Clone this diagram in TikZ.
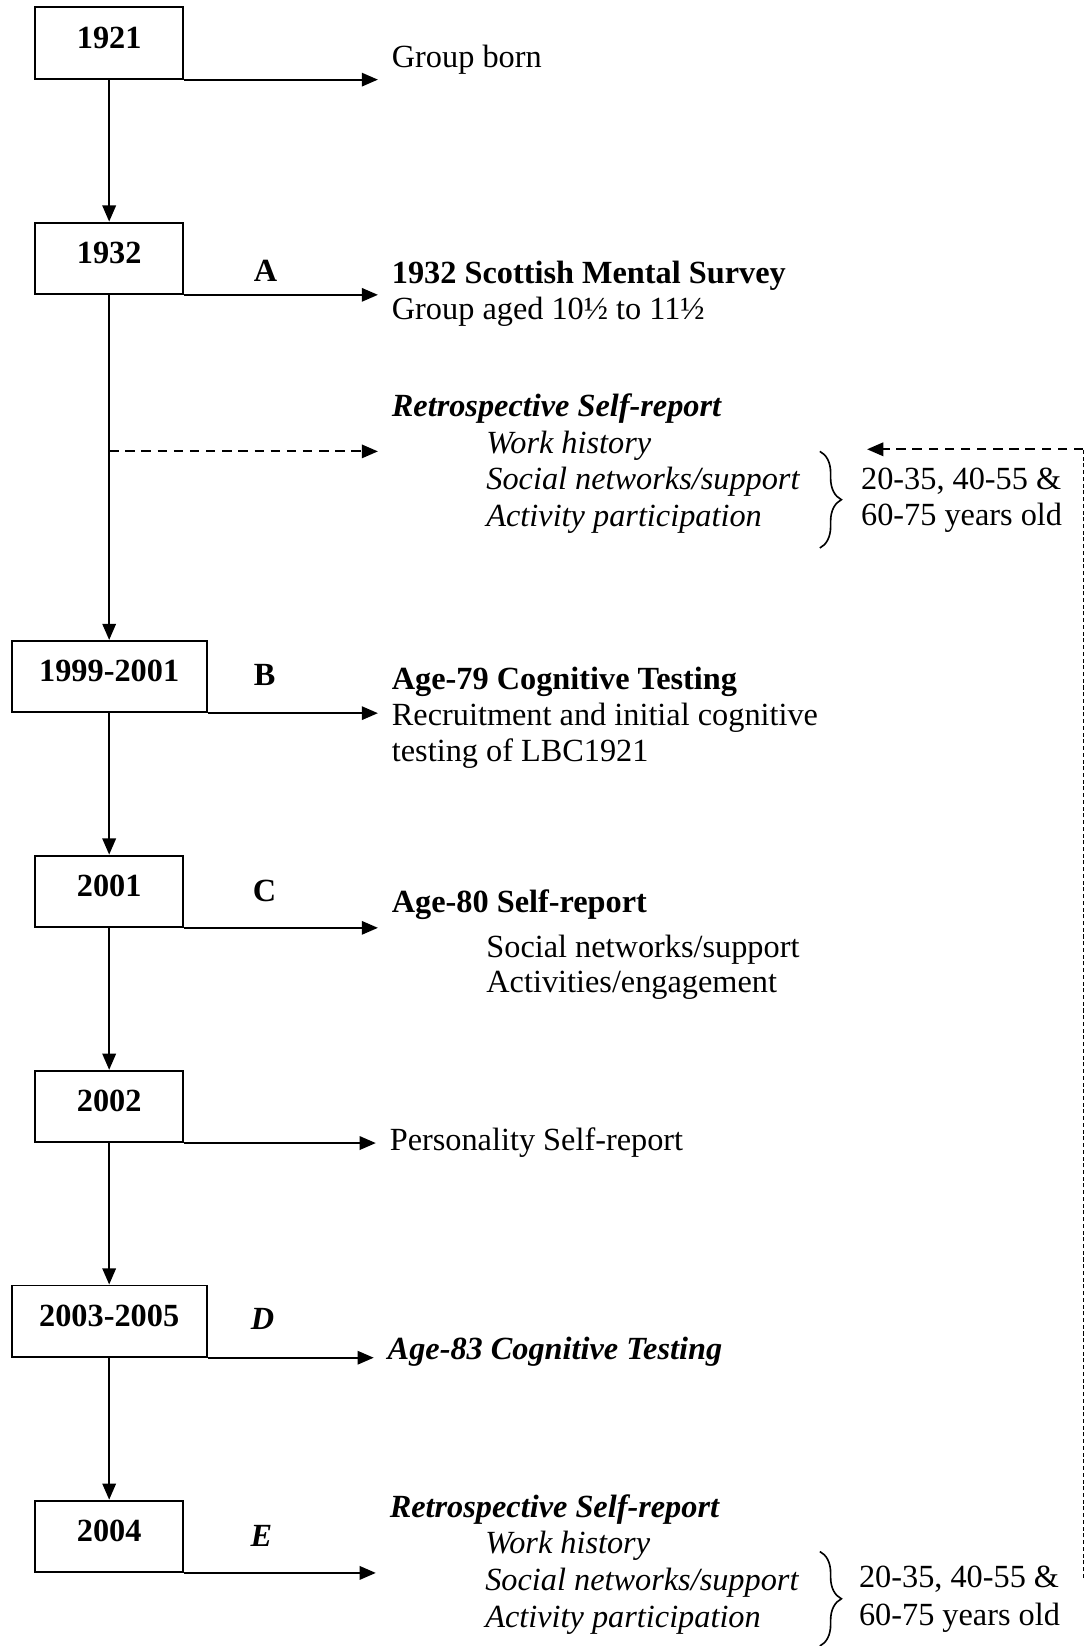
\documentclass[tikz,border=0pt]{standalone}
\usepackage{fontspec}
\setmainfont{Liberation Serif}
\usetikzlibrary{arrows.meta,decorations.pathreplacing}

\tikzset{
  yearbox/.style={draw, line width=0.7pt, minimum width=55pt, minimum height=26.5pt,
    inner sep=0pt, text height=8pt, text depth=4pt},
  widebox/.style={yearbox, minimum width=72.5pt},
  txt/.style={anchor=west, inner xsep=5pt, inner ysep=0pt, text height=8.5pt, text depth=2.5pt},
  lbl/.style={inner sep=0pt},
  flow/.style={line width=0.7pt, -{Triangle[length=6pt,width=5pt]}},
  dflow/.style={flow, dash pattern=on 3.5pt off 2.5pt},
  agebrace/.style={decorate, decoration={brace, amplitude=8pt}, line width=0.6pt},
}

\begin{document}
\begin{tikzpicture}[x=0.39pt, y=-0.39pt, font=\fontsize{12}{13.6}\selectfont]
  \useasboundingbox (0,0) rectangle (1034,1568);

  % Year boxes down the left
  \node[yearbox] (y1921) at (104,41) {\textbf{1921}};
  \node[yearbox] (y1932) at (104,246) {\textbf{1932}};
  \node[widebox] (y1999) at (104,644.5) {\textbf{1999-2001}};
  \node[yearbox] (y2001) at (104,849) {\textbf{2001}};
  \node[yearbox] (y2002) at (104,1054) {\textbf{2002}};
  \node[widebox] (y2003) at (104,1258.5) {\textbf{2003-2005}};
  \node[yearbox] (y2004) at (104,1463.5) {\textbf{2004}};

  % Wave letters
  \node[lbl] (wA) at (253,258) {\textbf{A}};
  \node[lbl] (wB) at (252,643) {\textbf{B}};
  \node[lbl] (wC) at (252,849) {\textbf{C}};
  \node[lbl] (wD) at (250,1256) {\textbf{\textit{D}}};
  \node[lbl] (wE) at (249,1463) {\textbf{\textit{E}}};

  % Timeline
  \draw[flow] (y1921) -- (y1932);
  \draw[flow] (y1932) -- (y1999);
  \draw[flow] (y1999) -- (y2001);
  \draw[flow] (y2001) -- (y2002);
  \draw[flow] (y2002) -- (y2003);
  \draw[flow] (y2003) -- (y2004);

  % Events
  \node[txt] (born) at (360,57) {Group born};

  \node[txt] (sms) at (360,262) {\textbf{1932 Scottish Mental Survey}};
  \node[txt] (smsage) at (360,297) {Group aged 10½ to 11½};

  \node[txt] (retroA) at (360,389) {\textbf{\textit{Retrospective Self-report}}};
  \node[txt] (workA) at (450,424) {\textit{Work history}};
  \node[txt] (socA) at (450,459) {\textit{Social networks/support}};
  \node[txt] (actA) at (450,494) {\textit{Activity participation}};
  \node[txt] (agesA) at (807,459) {20-35, 40-55 \&};
  \node[txt] (agesA2) at (807,493) {60-75 years old};

  \node[txt] (cog79) at (360,649) {\textbf{Age-79 Cognitive Testing}};
  \node[txt] (recr) at (360,683) {Recruitment and initial cognitive};
  \node[txt] (recr2) at (360,718) {testing of LBC1921};

  \node[txt] (self80) at (360,862) {\textbf{Age-80 Self-report}};
  \node[txt] (socC) at (450,904) {Social networks/support};
  \node[txt] (actC) at (450,938) {Activities/engagement};

  \node[txt] (pers) at (358,1088) {Personality Self-report};

  \node[txt] (cog83) at (356,1287) {\textbf{\textit{Age-83 Cognitive Testing}}};

  \node[txt] (retroE) at (358,1438) {\textbf{\textit{Retrospective Self-report}}};
  \node[txt] (workE) at (449,1472) {\textit{Work history}};
  \node[txt] (socE) at (449,1507) {\textit{Social networks/support}};
  \node[txt] (actE) at (449,1543) {\textit{Activity participation}};
  \node[txt] (agesE) at (805,1505) {20-35, 40-55 \&};
  \node[txt] (agesE2) at (805,1541) {60-75 years old};

  % Arrows out to the events
  \draw[flow] (y1921.south east) -- (y1921.south east -| born.west);
  \draw[flow] (y1932.south east) -- (y1932.south east -| sms.west);
  \coordinate (recall) at (104,430);
  \draw[dflow] (recall) -- (recall -| retroA.west);
  \draw[flow] (y1999.south east) -- (y1999.south east -| cog79.west);
  \draw[flow] (y2001.south east) -- (y2001.south east -| self80.west);
  \draw[flow] (y2002.south east) -- (y2002.south east -| pers.west);
  \draw[flow] (y2003.south east) -- (y2003.south east -| cog83.west);
  \draw[flow] (y2004.south east) -- (y2004.south east -| retroE.west);

  % Braces round the recalled periods
  \draw[agebrace] (781,430) -- (781,522);
  \draw[agebrace] (781,1478) -- (781,1568);

  % Link back from the 2004 report
  \coordinate (backfoot) at (1032,1503);
  \coordinate (backtip) at (826,428);
  \draw[line width=0.5pt, dash pattern=on 1.5pt off 1pt] (backfoot) -- (backfoot |- backtip);
  \draw[dflow] (backfoot |- backtip) -- (backtip);
\end{tikzpicture}
\end{document}
